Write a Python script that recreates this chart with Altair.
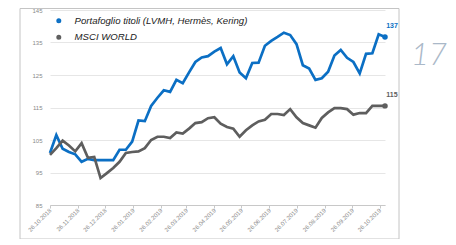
import altair as alt
import pandas as pd

start_date = "2018-10-26"
series_names = ["Portafoglio titoli (LVMH, Hermès, Kering)", "MSCI WORLD"]
colors = ["#0b6fc4", "#5e5e5e"]

portafoglio = [101, 106.5, 102.3, 101.3, 100.6, 98.3, 99.2, 98.8, 98.8, 98.8,
               98.8, 102, 102, 104.5, 111, 110.8, 115.5, 118, 120.3, 119.8,
               123.5, 122.5, 125.8, 129, 130.4, 130.8, 132.2, 133.3, 128.3, 130.8,
               125.8, 124, 128.7, 128.8, 134, 135.5, 136.7, 138, 137.3, 134.5,
               128, 127, 123.5, 124, 126, 131, 132.7, 130.3, 129, 125.5,
               131.5, 131.7, 137.5, 136.7]
msci = [100.4, 102.5, 104.8, 103.3, 101.5, 104, 99.5, 99.8, 93.3, 94.8,
        96.4, 98.3, 101, 101.3, 101.5, 102.5, 105, 106, 106, 105.6,
        107.3, 107, 108.5, 110.2, 110.5, 111.7, 112, 110, 109, 108.5,
        106, 108, 109.5, 110.7, 111.2, 113, 113, 112.7, 114.5, 112,
        110.2, 109.5, 108.8, 111.8, 113.5, 114.8, 114.8, 114.5, 112.8, 113.3,
        113.3, 115.5, 115.5, 115.5]

tick_labels = ["26.10.2018", "26.11.2018", "26.12.2018", "26.01.2019", "26.02.2019",
               "26.03.2019", "26.04.2019", "26.05.2019", "26.06.2019", "26.07.2019",
               "26.08.2019", "26.09.2019", "26.10.2019"]
end_labels = ["137", "115"]
y_ticks = [85, 95, 105, 115, 125, 135, 145]
page_number = "17"

dates = pd.date_range(start_date, periods=len(portafoglio), freq="7D")
date_str = [d.strftime("%Y-%m-%dT00:00:00") for d in dates]

rows = []
for name, vals in zip(series_names, [portafoglio, msci]):
    for d, v in zip(date_str, vals):
        rows.append({"date": d, "value": v, "serie": name})
df = pd.DataFrame(rows)

last = pd.DataFrame({
    "date": [date_str[-1]] * 2,
    "value": [portafoglio[-1], msci[-1]],
    "serie": series_names,
    "label": end_labels,
})


def to_dt(s):
    d, m, y = s.split(".")
    return alt.DateTime(year=int(y), month=int(m), date=int(d))


tick_values = [to_dt(s) for s in tick_labels]

x_enc = alt.X(
    "date:T",
    scale=alt.Scale(domain=[alt.DateTime(year=2018, month=10, date=26),
                            alt.DateTime(year=2019, month=11, date=1)]),
    axis=alt.Axis(values=tick_values, format="%d.%m.%Y", labelAngle=-45,
                  labelAlign="right", labelBaseline="middle",
                  labelFontSize=6, labelColor="#8a8a8a", labelFont="Liberation Sans",
                  domainColor="#c8c8c8", tickColor="#c8c8c8", tickSize=3,
                  grid=False, title=None, labelPadding=1, labelOverlap=False,
                  labelBound=False, labelFlush=False),
)
y_enc = alt.Y(
    "value:Q",
    scale=alt.Scale(domain=[85, 145], nice=False, zero=False),
    axis=alt.Axis(values=y_ticks, labelFontSize=6, labelColor="#8a8a8a",
                  labelFont="Liberation Sans", domain=False, ticks=False,
                  gridColor="#e6e6e6", labelPadding=8, title=None,
                  labelOverlap=False, labelFlush=False),
)
color_scale = alt.Scale(domain=series_names, range=colors)
color_enc = alt.Color(
    "serie:N",
    scale=color_scale,
    sort=series_names,
    legend=alt.Legend(orient="none", legendX=4, legendY=6, title=None,
                      symbolType="circle", symbolSize=4, symbolStrokeWidth=3,
                      labelFont="Liberation Sans", labelFontStyle="italic",
                      labelFontSize=9.6, labelColor="#222222", labelOffset=11,
                      labelLimit=400, rowPadding=1.5, padding=0),
)

lines = alt.Chart(df).mark_line(strokeWidth=2.7).encode(x=x_enc, y=y_enc, color=color_enc)

dots = alt.Chart(last).mark_point(filled=True, size=30, opacity=1).encode(
    x=x_enc, y=y_enc, color=color_enc,
)

labels = alt.Chart(last).mark_text(fontSize=7, fontWeight="bold", font="Liberation Sans",
                                   dx=7, dy=-11).encode(
    x=x_enc, y=y_enc, text="label:N", color=color_enc,
)

frame = alt.Chart(pd.DataFrame({"k": [0]})).mark_rect(
    fill="white", fillOpacity=0, stroke="#c4c4c4", strokeWidth=1
).encode(x=alt.value(-30), x2=alt.value(349), y=alt.value(-1.5), y2=alt.value(229))

page = alt.Chart(pd.DataFrame({"t": [page_number]})).mark_text(
    font="Lato", fontSize=31, fontStyle="italic", fontWeight=300, color="#aab8c8",
    align="center", baseline="alphabetic"
).encode(x=alt.value(379), y=alt.value(55), text="t:N")

chart = alt.layer(frame, lines, dots, labels, page).properties(
    width=335, height=195,
    autosize=alt.AutoSizeParams(type="none"),
    padding={"left": 42, "top": 2, "right": 62, "bottom": 34},
).configure_view(stroke=None)

chart.save("out.html", embed_options={"renderer": "svg", "actions": False})
